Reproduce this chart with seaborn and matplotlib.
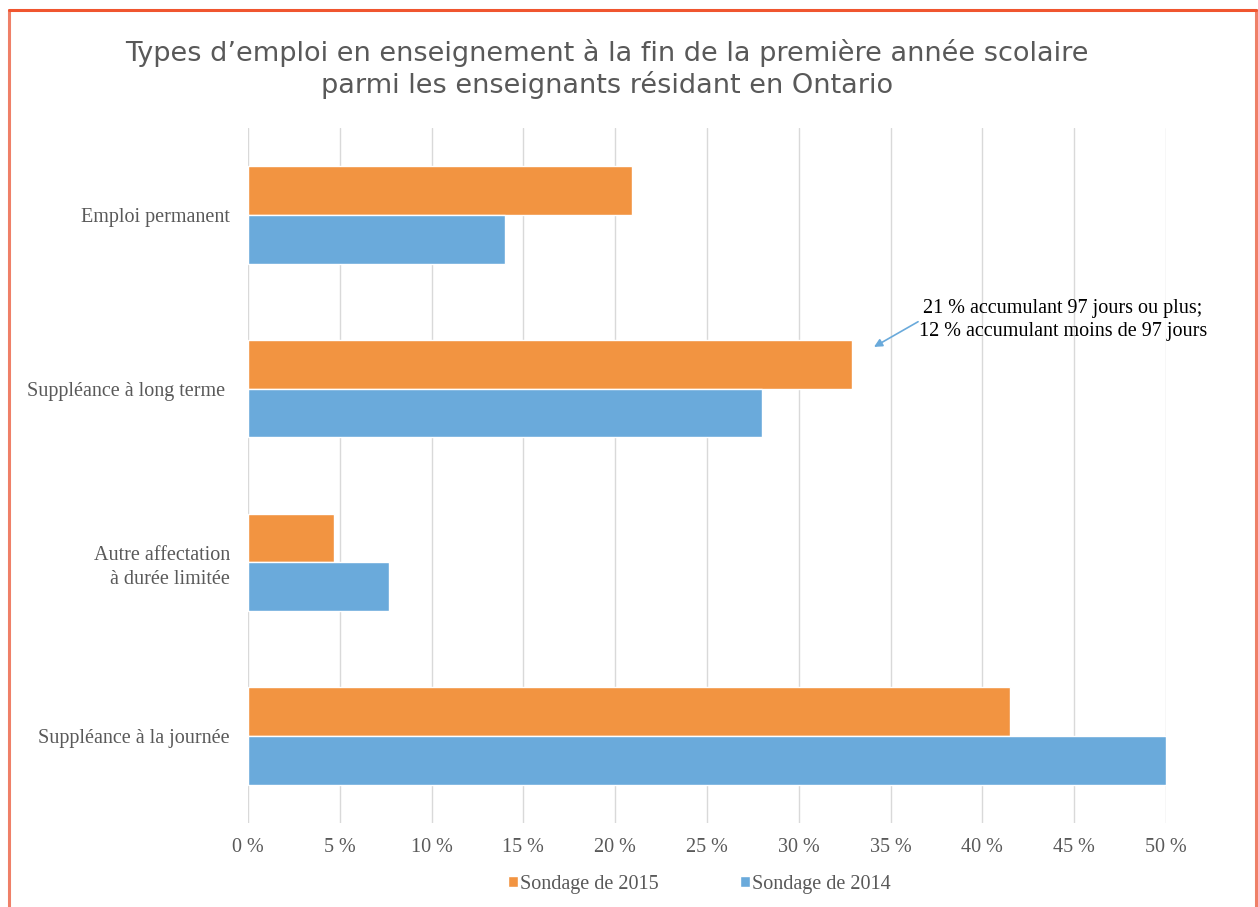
import pandas as pd
import matplotlib.pyplot as plt
import seaborn as sns
from matplotlib.lines import Line2D

# Data (percent)
categories = ['Emploi permanent', 'Suppléance à long terme ',
              'Autre affectation\nà durée limitée', 'Suppléance à la journée']
survey_2015 = [20.9, 32.9, 4.7, 41.5]
survey_2014 = [14.0, 28.0, 7.7, 50.0]
series_names = ['Sondage de 2015', 'Sondage de 2014']
x_ticks = [0, 5, 10, 15, 20, 25, 30, 35, 40, 45, 50]
x_tick_labels = ['0 %', '5 %', '10 %', '15 %', '20 %', '25 %', '30 %', '35 %', '40 %', '45 %', '50 %']

df = pd.DataFrame({
    'cat': categories * 2,
    'val': survey_2015 + survey_2014,
    'survey': [series_names[0]] * 4 + [series_names[1]] * 4,
})

sns.set_style('white')
plt.rcParams['font.family'] = ['Liberation Serif', 'DejaVu Serif']

fig = plt.figure(figsize=(12.58, 9.07), dpi=100)
ax = fig.add_axes([0.1971, 0.0926, 0.7297, 0.7663])

sns.barplot(data=df, y='cat', x='val', hue='survey', orient='h',
            palette=['#f29441', '#6aaadb'], width=0.56, gap=0,
            saturation=1, ax=ax, legend=True)

ax.set_xlim(0, 50)
ax.set_ylim(3.5, -0.5)
ax.set_xticks(x_ticks)
ax.set_xticklabels(x_tick_labels)
ax.grid(axis='x', color='#d9d9d9', linewidth=1)
ax.set_axisbelow(True)
for s in ax.spines.values():
    s.set_visible(False)
ax.set_xlabel('')
ax.set_ylabel('')
ax.tick_params(axis='both', length=0, labelsize=14.5, labelcolor='#595959')
ax.tick_params(axis='x', pad=11)
ax.tick_params(axis='y', pad=13)
for lbl in ax.get_yticklabels():
    lbl.set_multialignment('right')
    lbl.set_linespacing(1.35)

# Legend at the bottom
handles, labels = ax.get_legend_handles_labels()
ax.legend_.remove()
fig.legend(handles, labels, loc='center', bbox_to_anchor=(0.556, 0.025), ncol=2,
           frameon=False, fontsize=14.5, handlelength=0.5, handleheight=0.5,
           handletextpad=0.1, columnspacing=4.0, labelcolor='#595959')

# Annotation
ax.annotate('', xy=(34.1, 0.76), xytext=(36.5, 0.615),
            arrowprops=dict(arrowstyle='-|>', color='#6aaadb', lw=1.2,
                            mutation_scale=12, shrinkA=0, shrinkB=0))
ax.text(44.4, 0.605, '21 % accumulant 97 jours ou plus;\n12 % accumulant moins de 97 jours',
        ha='center', va='center', fontsize=14.5, color='black', linespacing=1.25)

# Title
fig.text(0.4825, 0.924,
         'Types d’emploi en enseignement à la fin de la première année scolaire\n'
         'parmi les enseignants résidant en Ontario',
         ha='center', va='center', fontsize=19.5, color='#595959',
         family=['DejaVu Sans'], linespacing=1.2)

# Frame around the chart
x0, x1, y0 = 9 / 1258, 1256 / 1258, 1 - 10 / 907
fig.add_artist(Line2D([x0, x0], [0, y0], transform=fig.transFigure, color='#ef8068', lw=2.2))
fig.add_artist(Line2D([x1, x1], [0, y0], transform=fig.transFigure, color='#ef8068', lw=2.2))
fig.add_artist(Line2D([x0, x1], [y0, y0], transform=fig.transFigure, color='#f0552f', lw=2.2))

fig.savefig('out.png', dpi=100)
